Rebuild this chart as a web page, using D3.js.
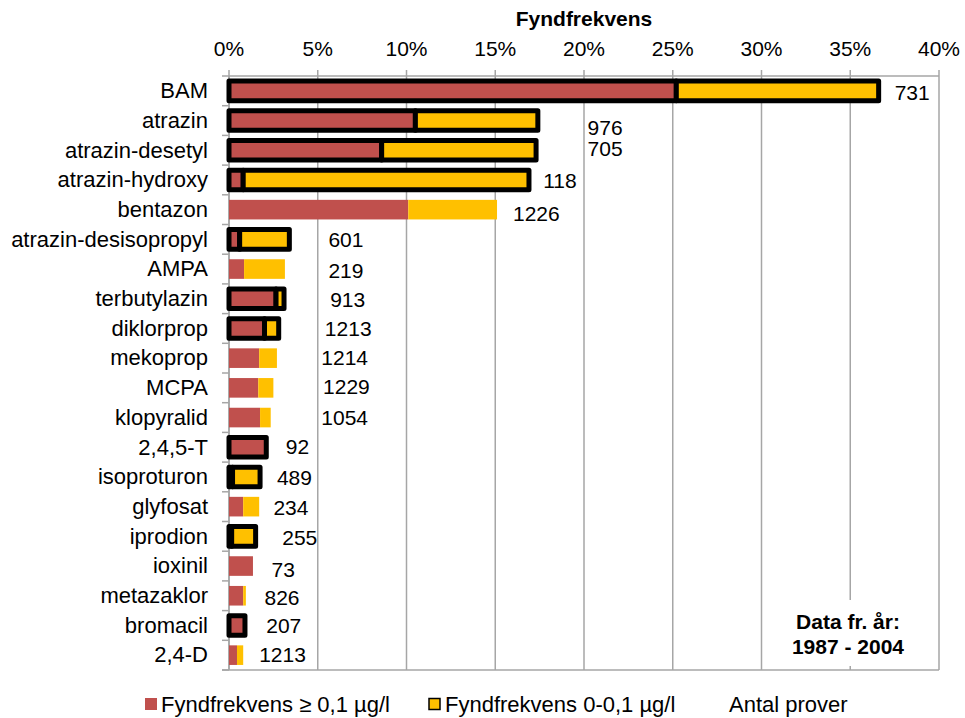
<!DOCTYPE html>
<html>
<head>
<meta charset="utf-8">
<script src="https://cdn.jsdelivr.net/npm/d3@7"></script>
<style>
  body { margin: 0; background: #fff; }
  text { font-family: "Liberation Sans", Arial, sans-serif; fill: #000; }
</style>
</head>
<body>
<script>
// data (percent)
var substances = ["BAM", "atrazin", "atrazin-desetyl", "atrazin-hydroxy", "bentazon",
  "atrazin-desisopropyl", "AMPA", "terbutylazin", "diklorprop", "mekoprop", "MCPA",
  "klopyralid", "2,4,5-T", "isoproturon", "glyfosat", "iprodion", "ioxinil",
  "metazaklor", "bromacil", "2,4-D"];
var above01 = [25.2, 10.5, 8.6, 0.8, 10.1, 0.6, 0.85, 2.65, 2.0, 1.7, 1.65, 1.75, 2.1, 0.2, 0.8, 0.15, 1.35, 0.8, 0.9, 0.45];
var below01 = [11.4, 6.9, 8.7, 16.1, 5.0, 2.8, 2.3, 0.45, 0.8, 1.0, 0.85, 0.6, 0, 1.55, 0.9, 1.35, 0, 0.15, 0, 0.35];
var antalProver = [731, 976, 705, 118, 1226, 601, 219, 913, 1213, 1214, 1229, 1054, 92, 489, 234, 255, 73, 826, 207, 1213];
// substances drawn with a heavy black outline
var outlined = ["BAM", "atrazin", "atrazin-desetyl", "atrazin-hydroxy", "atrazin-desisopropyl",
  "terbutylazin", "diklorprop", "2,4,5-T", "isoproturon", "iprodion", "bromacil"];
var xTicks = [0, 5, 10, 15, 20, 25, 30, 35, 40];

// where the sample count labels sit (percent along x, px shift in y)
var labelAt = [37.5, 20.2, 20.2, 17.7, 16.0, 5.6, 5.6, 5.7, 5.4, 5.2, 5.3, 5.2, 3.2, 2.7, 2.5, 3.0, 2.4, 2.0, 2.1, 1.7];
var labelShift = [2, 6.5, -2, 0, 3.5, 0.5, 1, 1, 0, -1, -1, 0, -1, 0, 1, 1.5, 3, 2, 0, -1];

var width = 965, height = 718;
var red = "#C0504D", yellow = "#FFC000", grid = "#A6A6A6";

var svg = d3.select("body").append("svg")
  .attr("width", width)
  .attr("height", height);

var x = d3.scaleLinear().domain([0, 40]).range([229, 939]);
var y = d3.scaleBand().domain(substances).range([76, 670])
  .paddingInner(0.34).paddingOuter(0.17);

var rows = substances.map(function(s, i) {
  return {name: s, a: above01[i], b: below01[i], n: antalProver[i],
    lx: labelAt[i], ly: labelShift[i], out: outlined.indexOf(s) >= 0};
});

// gridlines + top ticks
svg.append("g").selectAll("line")
  .data(xTicks).enter().append("line")
  .attr("x1", function(d){return x(d);})
  .attr("x2", function(d){return x(d);})
  .attr("y1", 70).attr("y2", 670)
  .attr("stroke", grid).attr("stroke-width", 1.5);

// axis lines
svg.append("line").attr("x1", x(0)).attr("x2", x(40)).attr("y1", 76).attr("y2", 76)
  .attr("stroke", grid).attr("stroke-width", 1.5);
svg.append("line").attr("x1", 222).attr("x2", x(40)).attr("y1", 670).attr("y2", 670)
  .attr("stroke", grid).attr("stroke-width", 1.5);
svg.append("line").attr("x1", x(0)).attr("x2", x(0)).attr("y1", 76).attr("y2", 670)
  .attr("stroke", grid).attr("stroke-width", 1.5);

// left ticks at band boundaries
var step = y.step();
svg.append("g").selectAll("line")
  .data(d3.range(substances.length + 1)).enter().append("line")
  .attr("x1", 222).attr("x2", x(0))
  .attr("y1", function(i){return 76 + i * step;})
  .attr("y2", function(i){return 76 + i * step;})
  .attr("stroke", grid).attr("stroke-width", 1.5);

// tick labels
svg.append("g").selectAll("text")
  .data(xTicks).enter().append("text")
  .attr("x", function(d){return x(d);})
  .attr("y", 56)
  .attr("text-anchor", "middle")
  .style("font-size", "21px")
  .text(function(d){return d + "%";});

svg.append("text")
  .attr("x", (x(0) + x(40)) / 2).attr("y", 26)
  .attr("text-anchor", "middle")
  .style("font-size", "21px").style("font-weight", "bold")
  .text("Fyndfrekvens");

// category labels
svg.append("g").selectAll("text")
  .data(rows).enter().append("text")
  .attr("x", 208)
  .attr("y", function(d){return y(d.name) + y.bandwidth() / 2;})
  .attr("dy", "0.33em")
  .attr("text-anchor", "end")
  .style("font-size", "22px")
  .text(function(d){return d.name;});

// white box behind the period note
svg.append("rect")
  .attr("x", x(30) + 1.5).attr("y", 600)
  .attr("width", x(40) - x(30) - 3).attr("height", 66)
  .attr("fill", "#fff");
svg.append("text")
  .attr("x", 848).attr("y", 629)
  .attr("text-anchor", "middle")
  .style("font-size", "21px").style("font-weight", "bold")
  .text("Data fr. år:");
svg.append("text")
  .attr("x", 848).attr("y", 654)
  .attr("text-anchor", "middle")
  .style("font-size", "21px").style("font-weight", "bold")
  .text("1987 - 2004");

// stacked bars
var bars = svg.append("g").selectAll("g")
  .data(rows).enter().append("g");

bars.append("rect")
  .attr("x", x(0))
  .attr("y", function(d){return y(d.name);})
  .attr("width", function(d){return x(d.a) - x(0);})
  .attr("height", y.bandwidth())
  .attr("fill", red)
  .attr("stroke", function(d){return d.out ? "#000" : "none";})
  .attr("stroke-width", 5)
  .attr("stroke-linejoin", "round");

bars.filter(function(d){return d.b > 0;}).append("rect")
  .attr("x", function(d){return x(d.a);})
  .attr("y", function(d){return y(d.name);})
  .attr("width", function(d){return x(d.a + d.b) - x(d.a);})
  .attr("height", y.bandwidth())
  .attr("fill", yellow)
  .attr("stroke", function(d){return d.out ? "#000" : "none";})
  .attr("stroke-width", 5)
  .attr("stroke-linejoin", "round");

// sample counts
bars.append("text")
  .attr("x", function(d){return x(d.lx);})
  .attr("y", function(d){return y(d.name) + y.bandwidth() / 2 + d.ly;})
  .attr("dy", "0.36em")
  .style("font-size", "21px")
  .text(function(d){return d.n;});

// legend
var legend = svg.append("g");
legend.append("rect").attr("x", 145).attr("y", 698).attr("width", 12).attr("height", 12)
  .attr("fill", red);
legend.append("text").attr("x", 161).attr("y", 712).style("font-size", "22px")
  .text("Fyndfrekvens ≥ 0,1 µg/l");
legend.append("rect").attr("x", 429).attr("y", 698.5).attr("width", 11).attr("height", 11)
  .attr("fill", yellow).attr("stroke", "#000").attr("stroke-width", 1.5);
legend.append("text").attr("x", 445).attr("y", 712).style("font-size", "22px")
  .text("Fyndfrekvens 0-0,1 µg/l");
legend.append("text").attr("x", 729).attr("y", 712).style("font-size", "22px")
  .text("Antal prover");
</script>
</body>
</html>
